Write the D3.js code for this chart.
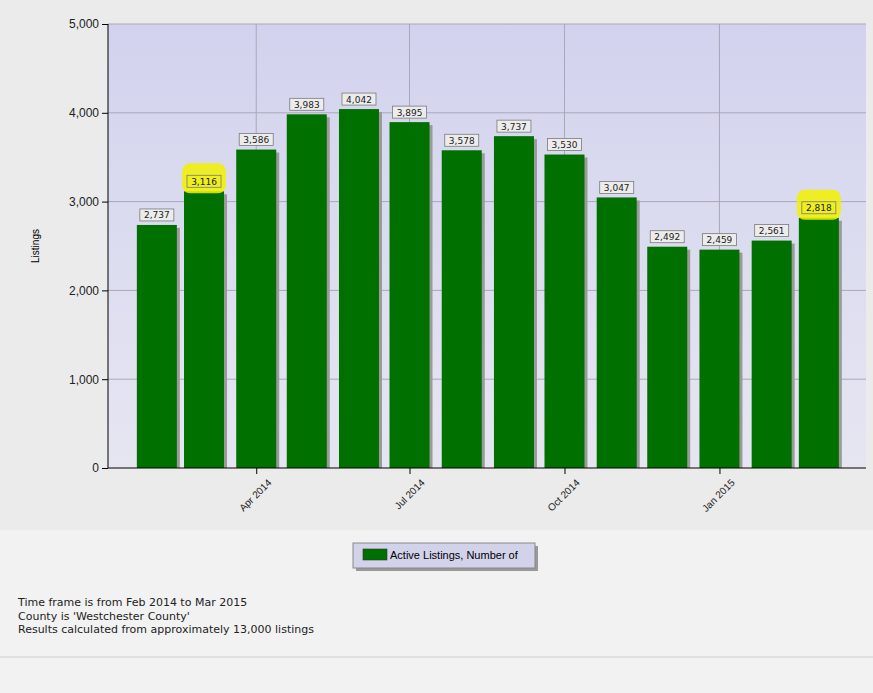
<!DOCTYPE html>
<html><head><meta charset="utf-8">
<script src="https://cdn.jsdelivr.net/npm/d3@7"></script>
<style>body{margin:0;background:#ebebeb;font-family:"DejaVu Sans",Arial,sans-serif}</style>
</head><body>
<svg id="chart" width="873" height="693"></svg>
<script>
// Data
const months = ['2014-02','2014-03','2014-04','2014-05','2014-06','2014-07','2014-08','2014-09','2014-10','2014-11','2014-12','2015-01','2015-02','2015-03']
const listings = [2737,3116,3586,3983,4042,3895,3578,3737,3530,3047,2492,2459,2561,2818]
const highlighted = ['2014-03','2015-03']
const tickMonths = ['2014-04','2014-07','2014-10','2015-01']
const footnotes = ['Time frame is from Feb 2014 to Mar 2015', "County is 'Westchester County'", 'Results calculated from approximately 13,000 listings']

const parse = d3.timeParse('%Y-%m')
const svg = d3.select('#chart')
const pLeft = 108, pRight = 866, pTop = 24, pBottom = 468

// page bands
svg.append('rect').attr('x',0).attr('y',0).attr('width',873).attr('height',530).attr('fill','#ebebeb')
svg.append('rect').attr('x',0).attr('y',530).attr('width',873).attr('height',163).attr('fill','#f2f2f2')
svg.append('line').attr('x1',0).attr('x2',873).attr('y1',657).attr('y2',657).attr('stroke','#cfcfcf')

const x = d3.scaleTime().domain([new Date(2014,0,3), new Date(2015,2,29)]).range([pLeft, pRight])
const y = d3.scaleLinear().domain([0,5000]).range([pBottom, pTop])

const defs = svg.append('defs')
const g = defs.append('linearGradient').attr('id','bg').attr('x1',0).attr('x2',0).attr('y1',0).attr('y2',1)
g.append('stop').attr('offset',0).attr('stop-color','#d2d2ee')
g.append('stop').attr('offset',1).attr('stop-color','#e6e6f2')
svg.append('rect').attr('x',pLeft).attr('y',pTop).attr('width',pRight-pLeft).attr('height',pBottom-pTop).attr('fill','url(#bg)')

// grid
svg.append('g').selectAll('line').data(d3.range(1000,5001,1000)).join('line')
  .attr('x1',pLeft).attr('x2',pRight).attr('y1',d=>y(d)).attr('y2',d=>y(d)).attr('stroke','#a8a8b8')
svg.append('g').selectAll('line').data(tickMonths).join('line')
  .attr('x1',d=>x(parse(d))).attr('x2',d=>x(parse(d))).attr('y1',pTop).attr('y2',pBottom).attr('stroke','#a8a8b8')

// bars
const bw = 40
svg.append('g').selectAll('rect').data(months).join('rect')
  .attr('x',(d)=>x(parse(d))-bw/2+3).attr('y',(d,i)=>y(listings[i])+3)
  .attr('width',bw).attr('height',(d,i)=>pBottom-y(listings[i])-3).attr('fill','#9a9a9a')
svg.append('g').selectAll('rect').data(months).join('rect')
  .attr('x',(d)=>x(parse(d))-bw/2).attr('y',(d,i)=>y(listings[i]))
  .attr('width',bw).attr('height',(d,i)=>pBottom-y(listings[i])).attr('fill','#007000')

// labels
const fmt = d3.format(',')
const lab = svg.append('g').selectAll('g').data(months).join('g')
  .attr('transform',(d,i)=>`translate(${x(parse(d))},${y(listings[i])-10})`)
lab.filter(d=>highlighted.includes(d)).append('rect')
  .attr('x',-22).attr('y',-18).attr('width',44).attr('height',30).attr('rx',8).attr('fill','#f2f000').attr('opacity',0.85)
lab.append('rect').attr('x',-17).attr('y',-6).attr('width',34).attr('height',12)
  .attr('fill',d=>highlighted.includes(d)?'#eeee20':'#ececec').attr('stroke','#7a7a7a').attr('stroke-width',0.8)
lab.append('text').attr('text-anchor','middle').attr('y',3.5).attr('font-size',9).attr('fill','#222')
  .text((d,i)=>fmt(listings[i]))

// axes
const ya = svg.append('g').attr('transform',`translate(${pLeft},0)`)
  .call(d3.axisLeft(y).tickValues(d3.range(0,5001,1000)).tickFormat(fmt).tickSize(6))
ya.select('.domain').attr('d',`M0,${pTop}V${pBottom}`)
ya.selectAll('text').attr('font-size',12).attr('fill','#222').attr('font-family','Arial, Liberation Sans, sans-serif')
const xa = svg.append('g').attr('transform',`translate(0,${pBottom})`)
  .call(d3.axisBottom(x).tickValues(tickMonths.map(parse)).tickFormat(d3.timeFormat('%b %Y')).tickSize(6))
xa.select('.domain').attr('d',`M${pLeft},0H${pRight}`)
xa.selectAll('text').attr('font-size',10).attr('fill','#222').attr('font-family','Arial, Liberation Sans, sans-serif')
  .attr('text-anchor','end').attr('transform','translate(4,4) rotate(-45)')

svg.append('text').attr('transform','translate(39,246) rotate(-90)').attr('text-anchor','middle')
  .attr('font-size',10).attr('font-family','Arial, Liberation Sans, sans-serif').text('Listings')

// legend
svg.append('rect').attr('x',356).attr('y',546).attr('width',182).attr('height',25).attr('fill','#999')
svg.append('rect').attr('x',353).attr('y',543).attr('width',182).attr('height',25).attr('fill','#d2d2ea').attr('stroke','#888')
svg.append('rect').attr('x',363).attr('y',549).attr('width',24).attr('height',11).attr('fill','#007000').attr('stroke','#333').attr('stroke-width',0.6)
svg.append('text').attr('x',390).attr('y',559).attr('font-size',11).attr('font-family','Arial, Liberation Sans, sans-serif').text('Active Listings, Number of')

// footnotes
svg.append('g').selectAll('text').data(footnotes).join('text')
  .attr('x',18).attr('y',(d,i)=>606+i*13.5).attr('font-size',11).attr('fill','#222').text(d=>d)
</script>
</body></html>
